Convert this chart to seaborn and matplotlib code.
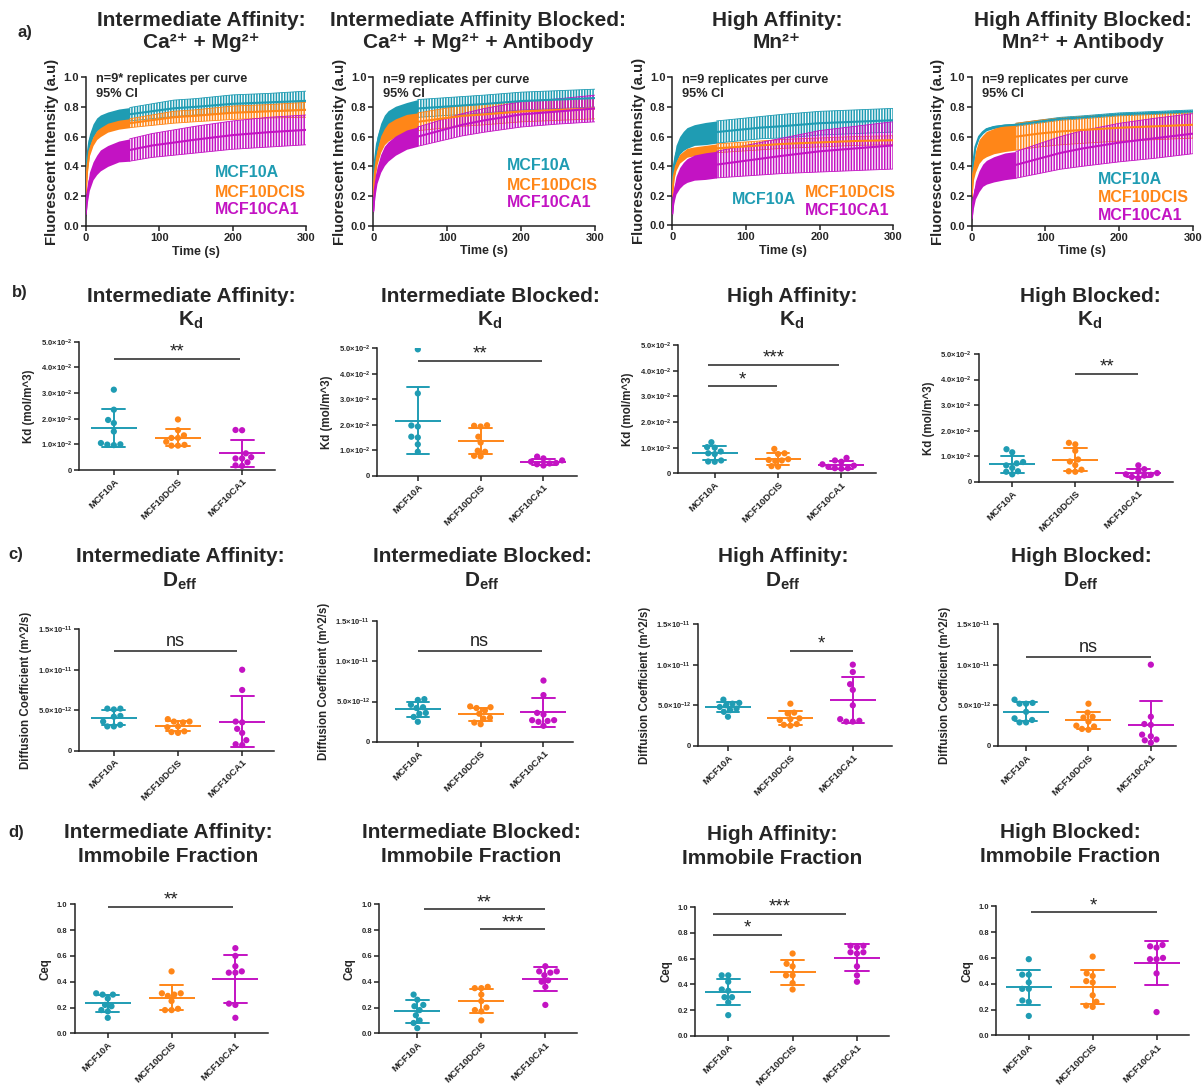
import warnings
warnings.filterwarnings("ignore")
import numpy as np
import pandas as pd
import matplotlib
matplotlib.use("Agg")
import matplotlib.pyplot as plt
import seaborn as sns

# ---------------- data ----------------
CATS = ["MCF10A", "MCF10DCIS", "MCF10CA1"]
PAL = {"MCF10A": "#1f9cb3", "MCF10DCIS": "#ff8618", "MCF10CA1": "#c313c3"}

# row a: recovery curves (mean and 95% CI half width) read at these times (s)
TIME = [0, 2, 5, 10, 15, 20, 30, 45, 60, 90, 120, 150, 200, 250, 300]

INT_A_MEAN = [0.28, 0.46, 0.57, 0.64, 0.68, 0.70, 0.72, 0.74, 0.75, 0.77, 0.79, 0.80, 0.82, 0.83, 0.84]
INT_A_CI = [0.03, 0.04, 0.045, 0.045, 0.045, 0.045, 0.045, 0.045, 0.045, 0.05, 0.055, 0.055, 0.06, 0.06, 0.065]
INT_D_MEAN = [0.22, 0.38, 0.50, 0.57, 0.61, 0.63, 0.66, 0.68, 0.69, 0.71, 0.73, 0.74, 0.76, 0.77, 0.78]
INT_D_CI = [0.03, 0.03, 0.03, 0.03, 0.03, 0.03, 0.03, 0.03, 0.03, 0.035, 0.04, 0.04, 0.045, 0.045, 0.05]
INT_C_MEAN = [0.08, 0.20, 0.30, 0.37, 0.41, 0.44, 0.47, 0.50, 0.51, 0.54, 0.56, 0.58, 0.61, 0.63, 0.645]
INT_C_CI = [0.03, 0.05, 0.06, 0.06, 0.065, 0.07, 0.07, 0.07, 0.075, 0.08, 0.085, 0.09, 0.095, 0.10, 0.10]

IBL_A_MEAN = [0.25, 0.43, 0.55, 0.64, 0.69, 0.72, 0.75, 0.775, 0.79, 0.80, 0.81, 0.82, 0.84, 0.85, 0.86]
IBL_A_CI = [0.03, 0.04, 0.05, 0.05, 0.055, 0.055, 0.055, 0.055, 0.06, 0.06, 0.06, 0.06, 0.06, 0.06, 0.06]
IBL_D_MEAN = [0.20, 0.35, 0.46, 0.55, 0.60, 0.63, 0.66, 0.69, 0.70, 0.72, 0.74, 0.75, 0.77, 0.78, 0.79]
IBL_D_CI = [0.03, 0.05, 0.05, 0.055, 0.055, 0.06, 0.06, 0.06, 0.06, 0.065, 0.07, 0.07, 0.07, 0.07, 0.07]
IBL_C_MEAN = [0.10, 0.24, 0.34, 0.42, 0.47, 0.50, 0.54, 0.58, 0.60, 0.64, 0.68, 0.71, 0.75, 0.77, 0.79]
IBL_C_CI = [0.03, 0.05, 0.055, 0.06, 0.065, 0.065, 0.065, 0.065, 0.065, 0.07, 0.075, 0.08, 0.085, 0.085, 0.09]

HI_A_MEAN = [0.25, 0.40, 0.48, 0.54, 0.57, 0.59, 0.61, 0.62, 0.63, 0.645, 0.66, 0.67, 0.69, 0.70, 0.71]
HI_A_CI = [0.03, 0.05, 0.06, 0.06, 0.065, 0.07, 0.07, 0.075, 0.075, 0.075, 0.075, 0.08, 0.08, 0.08, 0.08]
HI_D_MEAN = [0.20, 0.33, 0.40, 0.45, 0.47, 0.49, 0.50, 0.51, 0.52, 0.53, 0.54, 0.55, 0.56, 0.57, 0.575]
HI_D_CI = [0.02, 0.025, 0.03, 0.03, 0.03, 0.03, 0.03, 0.03, 0.03, 0.03, 0.03, 0.03, 0.03, 0.03, 0.03]
HI_C_MEAN = [0.08, 0.20, 0.27, 0.32, 0.35, 0.37, 0.39, 0.40, 0.41, 0.43, 0.45, 0.47, 0.50, 0.52, 0.54]
HI_C_CI = [0.03, 0.05, 0.06, 0.07, 0.075, 0.08, 0.085, 0.09, 0.09, 0.10, 0.11, 0.12, 0.14, 0.15, 0.16]

HBL_A_MEAN = [0.25, 0.42, 0.53, 0.60, 0.63, 0.65, 0.665, 0.675, 0.68, 0.70, 0.72, 0.73, 0.75, 0.76, 0.77]
HBL_A_CI = [0.01, 0.01, 0.01, 0.01, 0.01, 0.01, 0.01, 0.01, 0.01, 0.01, 0.01, 0.01, 0.01, 0.01, 0.01]
HBL_D_MEAN = [0.20, 0.35, 0.43, 0.50, 0.53, 0.55, 0.57, 0.59, 0.60, 0.62, 0.635, 0.645, 0.66, 0.67, 0.68]
HBL_D_CI = [0.03, 0.05, 0.07, 0.08, 0.08, 0.085, 0.085, 0.09, 0.09, 0.09, 0.09, 0.09, 0.09, 0.09, 0.09]
HBL_C_MEAN = [0.05, 0.16, 0.24, 0.30, 0.34, 0.36, 0.38, 0.40, 0.41, 0.45, 0.49, 0.52, 0.56, 0.59, 0.62]
HBL_C_CI = [0.03, 0.05, 0.06, 0.07, 0.075, 0.08, 0.085, 0.09, 0.09, 0.10, 0.11, 0.12, 0.13, 0.135, 0.135]

# row b: Kd (mol/m^3)
KD_INT_A = [0.0313, 0.0235, 0.0195, 0.0183, 0.0150, 0.0105, 0.0099, 0.0097, 0.0100]
KD_INT_D = [0.0197, 0.0155, 0.0135, 0.0125, 0.0125, 0.0110, 0.0098, 0.0095, 0.0095]
KD_INT_C = [0.0156, 0.0155, 0.0065, 0.0050, 0.0045, 0.0045, 0.0030, 0.0018, 0.0016]
KD_IBL_A = [0.0496, 0.0323, 0.0197, 0.0193, 0.0153, 0.0150, 0.0123, 0.0094]
KD_IBL_D = [0.0198, 0.0196, 0.0193, 0.0153, 0.0130, 0.0098, 0.0094, 0.0078, 0.0076]
KD_IBL_C = [0.0075, 0.0068, 0.0060, 0.0055, 0.0050, 0.0048, 0.0045, 0.0040]
KD_HI_A = [0.0121, 0.0102, 0.0100, 0.0085, 0.0078, 0.0075, 0.0050, 0.0045, 0.0046]
KD_HI_D = [0.0095, 0.0078, 0.0075, 0.0055, 0.0052, 0.0050, 0.0048, 0.0028, 0.0026]
KD_HI_C = [0.0060, 0.0050, 0.0045, 0.0035, 0.0030, 0.0025, 0.0020, 0.0020, 0.0018]
KD_HBL_A = [0.0128, 0.0116, 0.0078, 0.0073, 0.0065, 0.0055, 0.0042, 0.0040, 0.0030]
KD_HBL_D = [0.0153, 0.0147, 0.0122, 0.0088, 0.0080, 0.0066, 0.0048, 0.0042, 0.0040]
KD_HBL_C = [0.0065, 0.0050, 0.0040, 0.0035, 0.0030, 0.0028, 0.0025, 0.0020, 0.0015]

# row c: Deff in units of 1e-12 m^2/s
DE_INT_A = [5.2, 5.2, 5.1, 4.3, 4.2, 3.6, 3.2, 3.0, 3.0]
DE_INT_D = [3.9, 3.6, 3.6, 3.5, 3.0, 2.9, 2.4, 2.3, 2.2]
DE_INT_C = [10.0, 7.5, 3.6, 3.5, 2.7, 2.2, 1.3, 0.8, 0.7]
DE_IBL_A = [5.3, 5.2, 4.6, 4.3, 4.2, 3.6, 3.5, 3.1, 2.5]
DE_IBL_D = [4.4, 4.3, 4.2, 3.9, 3.5, 3.0, 2.9, 2.4, 2.2]
DE_IBL_C = [7.6, 5.8, 3.6, 3.4, 2.7, 2.7, 2.6, 2.5, 2.0]
DE_HI_A = [5.7, 5.3, 5.2, 5.0, 4.8, 4.6, 4.4, 4.2, 3.6]
DE_HI_D = [5.2, 4.1, 4.0, 3.4, 3.3, 3.2, 2.7, 2.6, 2.5]
DE_HI_C = [10.0, 9.1, 7.6, 6.9, 5.0, 3.3, 3.1, 3.0, 3.0]
DE_HBL_A = [5.7, 5.3, 5.2, 5.2, 4.2, 3.4, 3.2, 2.9, 2.9]
DE_HBL_D = [5.2, 4.1, 3.6, 3.5, 3.0, 2.5, 2.4, 2.1, 2.0]
DE_HBL_C = [10.0, 3.6, 2.7, 2.6, 1.4, 1.2, 0.8, 0.7, 0.4]

# row d: immobile fraction Ceq
CEQ_INT_A = [0.31, 0.30, 0.30, 0.27, 0.22, 0.21, 0.18, 0.17, 0.12]
CEQ_INT_D = [0.48, 0.31, 0.31, 0.30, 0.29, 0.25, 0.19, 0.18, 0.18]
CEQ_INT_C = [0.66, 0.60, 0.52, 0.48, 0.47, 0.47, 0.23, 0.22, 0.12]
CEQ_IBL_A = [0.30, 0.26, 0.22, 0.21, 0.18, 0.14, 0.10, 0.08, 0.04]
CEQ_IBL_D = [0.36, 0.35, 0.35, 0.30, 0.25, 0.20, 0.18, 0.17, 0.10]
CEQ_IBL_C = [0.52, 0.48, 0.48, 0.47, 0.45, 0.41, 0.40, 0.36, 0.22]
CEQ_HI_A = [0.47, 0.47, 0.42, 0.36, 0.35, 0.30, 0.30, 0.26, 0.16]
CEQ_HI_D = [0.64, 0.56, 0.54, 0.47, 0.47, 0.41, 0.36]
CEQ_HI_C = [0.70, 0.70, 0.69, 0.65, 0.65, 0.64, 0.54, 0.47, 0.42]
CEQ_HBL_A = [0.59, 0.47, 0.47, 0.41, 0.36, 0.36, 0.27, 0.26, 0.15]
CEQ_HBL_D = [0.61, 0.48, 0.46, 0.42, 0.41, 0.31, 0.26, 0.23, 0.22]
CEQ_HBL_C = [0.70, 0.69, 0.68, 0.60, 0.59, 0.59, 0.48, 0.18]

KD_TICKS = [0, 0.01, 0.02, 0.03, 0.04, 0.05]
KD_TICKLABELS = ["0", r"1.0$\times$10$^{-2}$", r"2.0$\times$10$^{-2}$", r"3.0$\times$10$^{-2}$",
                 r"4.0$\times$10$^{-2}$", r"5.0$\times$10$^{-2}$"]
DE_TICKS = [0, 5, 10, 15]
DE_TICKLABELS = ["0", r"5.0$\times$10$^{-12}$", r"1.0$\times$10$^{-11}$", r"1.5$\times$10$^{-11}$"]
CEQ_TICKS = [0, 0.2, 0.4, 0.6, 0.8, 1.0]
CEQ_TICKLABELS = ["0.0", "0.2", "0.4", "0.6", "0.8", "1.0"]

# ---------------- style ----------------
sns.set_theme(style="ticks")
plt.rcParams["font.family"] = ["Liberation Sans", "DejaVu Sans"]
plt.rcParams["font.weight"] = "bold"
plt.rcParams["mathtext.default"] = "regular"
plt.rcParams["hatch.linewidth"] = 1.1
INK = "#222222"

W, H = 1203, 1090
fig = plt.figure(figsize=(W / 100, H / 100), dpi=100)
fig.patch.set_facecolor("white")


def px_axes(x0, x1, ytop, ybot):
    return fig.add_axes([x0 / W, 1 - ybot / H, (x1 - x0) / W, (ybot - ytop) / H])


def style(ax):
    sns.despine(ax=ax)
    for s in ["left", "bottom"]:
        ax.spines[s].set_linewidth(1.1)
        ax.spines[s].set_color(INK)
    ax.tick_params(width=1.1, length=3.5, color=INK, pad=1.5)


def ftext(x, y, s, **kw):
    fig.text(x / W, 1 - y / H, s, ha="center", va="center", **kw)


# ---------------- row a ----------------
curve_panels = [
    dict(px=(85.7, 306, 77, 226), tx=201, t1="Intermediate Affinity:", t2="Ca²⁺ + Mg²⁺",
         n="n=9* replicates per curve",
         series=[(INT_A_MEAN, INT_A_CI), (INT_D_MEAN, INT_D_CI), (INT_C_MEAN, INT_C_CI)],
         leg=[(0.587, 0.356), (0.587, 0.228), (0.587, 0.114)]),
    dict(px=(373.3, 595.3, 77.3, 225.7), tx=478, t1="Intermediate Affinity Blocked:",
         t2="Ca²⁺ + Mg²⁺ + Antibody", n="n=9 replicates per curve",
         series=[(IBL_A_MEAN, IBL_A_CI), (IBL_D_MEAN, IBL_D_CI), (IBL_C_MEAN, IBL_C_CI)],
         leg=[(0.601, 0.409), (0.601, 0.274), (0.601, 0.155)]),
    dict(px=(672.3, 893.3, 77.3, 225.3), tx=777, t1="High Affinity:", t2="Mn²⁺",
         n="n=9 replicates per curve",
         series=[(HI_A_MEAN, HI_A_CI), (HI_D_MEAN, HI_D_CI), (HI_C_MEAN, HI_C_CI)],
         leg=[(0.269, 0.171), (0.60, 0.22), (0.60, 0.099)]),
    dict(px=(971.7, 1192.7, 77.3, 225.7), tx=1083, t1="High Affinity Blocked:", t2="Mn²⁺ + Antibody",
         n="n=9 replicates per curve",
         series=[(HBL_A_MEAN, HBL_A_CI), (HBL_D_MEAN, HBL_D_CI), (HBL_C_MEAN, HBL_C_CI)],
         leg=[(0.573, 0.308), (0.573, 0.191), (0.573, 0.072)]),
]

t = np.array(TIME, dtype=float)
for p in curve_panels:
    ax = px_axes(*p["px"])
    for name, (mean, ci) in zip(CATS, p["series"]):
        c = PAL[name]
        m = np.array(mean)
        h = np.array(ci)
        early = t <= 60
        late = t >= 60
        ax.fill_between(t[early], (m - h)[early], (m + h)[early], color=c, linewidth=0, zorder=2)
        ax.fill_between(t[late], (m - h)[late], (m + h)[late], facecolor="none", edgecolor=c,
                        hatch="||||||", linewidth=0, zorder=2)
        ax.plot(t[late], (m + h)[late], color=c, lw=0.6, zorder=2)
        ax.plot(t[late], (m - h)[late], color=c, lw=0.6, zorder=2)
        sns.lineplot(x=t, y=m, color=c, linewidth=1.5, ax=ax, zorder=3)
    ax.set_xlim(0, 300)
    ax.set_ylim(0, 1.0)
    ax.set_xticks([0, 100, 200, 300])
    ax.set_yticks([0, 0.2, 0.4, 0.6, 0.8, 1.0])
    ax.set_yticklabels(["0.0", "0.2", "0.4", "0.6", "0.8", "1.0"])
    ax.tick_params(labelsize=8)
    style(ax)
    ax.set_xlabel("Time (s)", fontsize=9, fontweight="bold", labelpad=2)
    ax.set_ylabel("Fluorescent Intensity (a.u)", fontsize=10.8, fontweight="bold", labelpad=3)
    ax.text(0.045, 0.985, p["n"], transform=ax.transAxes, fontsize=9.2, fontweight="bold", va="center")
    ax.text(0.045, 0.885, "95% CI", transform=ax.transAxes, fontsize=9.2, fontweight="bold", va="center")
    for name, (lx, ly) in zip(CATS, p["leg"]):
        ax.text(lx, ly, name, transform=ax.transAxes, color=PAL[name], fontsize=11.5,
                fontweight="bold", va="center", ha="left")
    ftext(p["tx"], 20, p["t1"], fontsize=15, fontweight="bold")
    ftext(p["tx"], 42, p["t2"], fontsize=15, fontweight="bold")

# ---------------- rows b-d ----------------
scatter_panels = [
    # row b
    dict(px=(79.2, 274.8, 341.7, 470), xl=(-0.54, 2.51), g=(KD_INT_A, KD_INT_D, KD_INT_C),
         yl=(0, 0.05), yt=KD_TICKS, ytl=KD_TICKLABELS, lab="Kd (mol/m^3)",
         tx=191, ty=(296, 320), t1="Intermediate Affinity:", t2="K$_d$", sig=[(0, 1.97, 0.0434, "**")]),
    dict(px=(377, 576.7, 348.3, 475.7), xl=(-0.65, 2.53), g=(KD_IBL_A, KD_IBL_D, KD_IBL_C),
         yl=(0, 0.05), yt=KD_TICKS, ytl=KD_TICKLABELS, lab="Kd (mol/m^3)",
         tx=490, ty=(296, 320), t1="Intermediate Blocked:", t2="K$_d$", sig=[(0, 1.97, 0.0452, "**")]),
    dict(px=(678, 876.2, 345, 473.3), xl=(-0.58, 2.55), g=(KD_HI_A, KD_HI_D, KD_HI_C),
         yl=(0, 0.05), yt=KD_TICKS, ytl=KD_TICKLABELS, lab="Kd (mol/m^3)",
         tx=792, ty=(296, 320), t1="High Affinity:", t2="K$_d$",
         sig=[(-0.1, 1.97, 0.0422, "***"), (-0.1, 0.98, 0.034, "*")]),
    dict(px=(978.8, 1173, 354, 482), xl=(-0.53, 2.55), g=(KD_HBL_A, KD_HBL_D, KD_HBL_C),
         yl=(0, 0.05), yt=KD_TICKS, ytl=KD_TICKLABELS, lab="Kd (mol/m^3)",
         tx=1090, ty=(296, 320), t1="High Blocked:", t2="K$_d$", sig=[(1, 2, 0.0422, "**")]),
    # row c
    dict(px=(79.2, 273.6, 629.3, 750.7), xl=(-0.54, 2.49), g=(DE_INT_A, DE_INT_D, DE_INT_C),
         yl=(0, 15), yt=DE_TICKS, ytl=DE_TICKLABELS, lab="Diffusion Coefficient (m^2/s)",
         tx=180, ty=(557, 581), t1="Intermediate Affinity:", t2="D$_{eff}$", sig=[(0, 1.92, 12.28, "ns")]),
    dict(px=(377, 573, 620.7, 742), xl=(-0.65, 2.47), g=(DE_IBL_A, DE_IBL_D, DE_IBL_C),
         yl=(0, 15), yt=DE_TICKS, ytl=DE_TICKLABELS, lab="Diffusion Coefficient (m^2/s)",
         tx=482, ty=(557, 581), t1="Intermediate Blocked:", t2="D$_{eff}$", sig=[(0, 1.97, 11.25, "ns")]),
    dict(px=(698, 891.5, 624, 746), xl=(-0.48, 2.62), g=(DE_HI_A, DE_HI_D, DE_HI_C),
         yl=(0, 15), yt=DE_TICKS, ytl=DE_TICKLABELS, lab="Diffusion Coefficient (m^2/s)",
         tx=783, ty=(557, 581), t1="High Affinity:", t2="D$_{eff}$", sig=[(1, 2, 11.68, "*")]),
    dict(px=(998, 1175.8, 624, 746), xl=(-0.45, 2.4), g=(DE_HBL_A, DE_HBL_D, DE_HBL_C),
         yl=(0, 15), yt=DE_TICKS, ytl=DE_TICKLABELS, lab="Diffusion Coefficient (m^2/s)",
         tx=1081, ty=(557, 581), t1="High Blocked:", t2="D$_{eff}$", sig=[(0, 2, 10.98, "ns")]),
    # row d
    dict(px=(74.6, 267.9, 904.3, 1033.3), xl=(-0.52, 2.51), g=(CEQ_INT_A, CEQ_INT_D, CEQ_INT_C),
         yl=(0, 1.0), yt=CEQ_TICKS, ytl=CEQ_TICKLABELS, lab="Ceq",
         tx=168, ty=(832, 856), t1="Intermediate Affinity:", t2="Immobile Fraction",
         sig=[(0, 1.97, 0.98, "**")]),
    dict(px=(378.9, 576.7, 904.3, 1033.3), xl=(-0.6, 2.49), g=(CEQ_IBL_A, CEQ_IBL_D, CEQ_IBL_C),
         yl=(0, 1.0), yt=CEQ_TICKS, ytl=CEQ_TICKLABELS, lab="Ceq",
         tx=471, ty=(832, 856), t1="Intermediate Blocked:", t2="Immobile Fraction",
         sig=[(0.1, 2.0, 0.96, "**"), (0.98, 2.0, 0.806, "***")]),
    dict(px=(695.4, 888.5, 907.3, 1035.7), xl=(-0.51, 2.49), g=(CEQ_HI_A, CEQ_HI_D, CEQ_HI_C),
         yl=(0, 1.0), yt=CEQ_TICKS, ytl=CEQ_TICKLABELS, lab="Ceq",
         tx=772, ty=(835, 859), t1="High Affinity:", t2="Immobile Fraction",
         sig=[(-0.23, 1.83, 0.95, "***"), (-0.23, 0.83, 0.784, "*")]),
    dict(px=(996.2, 1188.5, 906.3, 1035.3), xl=(-0.51, 2.5), g=(CEQ_HBL_A, CEQ_HBL_D, CEQ_HBL_C),
         yl=(0, 1.0), yt=CEQ_TICKS, ytl=CEQ_TICKLABELS, lab="Ceq",
         tx=1070, ty=(832, 856), t1="High Blocked:", t2="Immobile Fraction",
         sig=[(0.03, 2.0, 0.953, "*")]),
]

for p in scatter_panels:
    ax = px_axes(*p["px"])
    df = pd.DataFrame({
        "line": np.repeat(CATS, [len(v) for v in p["g"]]),
        "value": np.concatenate([np.array(v, dtype=float) for v in p["g"]]),
    })
    sns.swarmplot(data=df, x="line", y="value", hue="line", order=CATS, hue_order=CATS,
                  palette=PAL, size=4.5, linewidth=0, legend=False, ax=ax, zorder=3)
    sns.pointplot(data=df, x="line", y="value", hue="line", order=CATS, hue_order=CATS,
                  palette=PAL, errorbar="sd", capsize=0.36, markers="_", linestyles="none",
                  markersize=33, markeredgewidth=1.4, err_kws={"linewidth": 1.4},
                  legend=False, ax=ax)
    ax.set_xlim(*p["xl"])
    ax.set_ylim(*p["yl"])
    ax.set_yticks(p["yt"])
    ax.set_yticklabels(p["ytl"], fontsize=5.5, fontweight="bold")
    ax.set_xticks([0, 1, 2])
    ax.set_xticklabels(CATS, rotation=45, ha="right", va="top", rotation_mode="anchor",
                       fontsize=6.8, fontweight="bold")
    style(ax)
    ax.set_xlabel("")
    ax.set_ylabel(p["lab"], fontsize=8.3, fontweight="bold", labelpad=4)
    for (x1, x2, y, lab) in p["sig"]:
        ax.plot([x1, x2], [y, y], color=INK, lw=1.1, solid_capstyle="butt", clip_on=False)
        if lab == "ns":
            ax.annotate(lab, ((x1 + x2) / 2, y), xytext=(0, 3.5), textcoords="offset points",
                        ha="center", va="baseline", fontsize=13, fontweight="normal", color=INK)
        else:
            ax.annotate(lab, ((x1 + x2) / 2, y), xytext=(0, 1.5), textcoords="offset points",
                        ha="center", va="baseline", fontsize=13.5, fontweight="normal", color=INK)
    ftext(p["tx"], p["ty"][0], p["t1"], fontsize=15, fontweight="bold")
    ftext(p["tx"], p["ty"][1], p["t2"], fontsize=15, fontweight="bold")

# panel letters
for lab, x, y in [("a)", 25, 33), ("b)", 20, 292), ("c)", 16, 555), ("d)", 16, 832)]:
    ftext(x, y, lab, fontsize=12, fontweight="bold")

fig.savefig("out.png", dpi=100, facecolor="white")
